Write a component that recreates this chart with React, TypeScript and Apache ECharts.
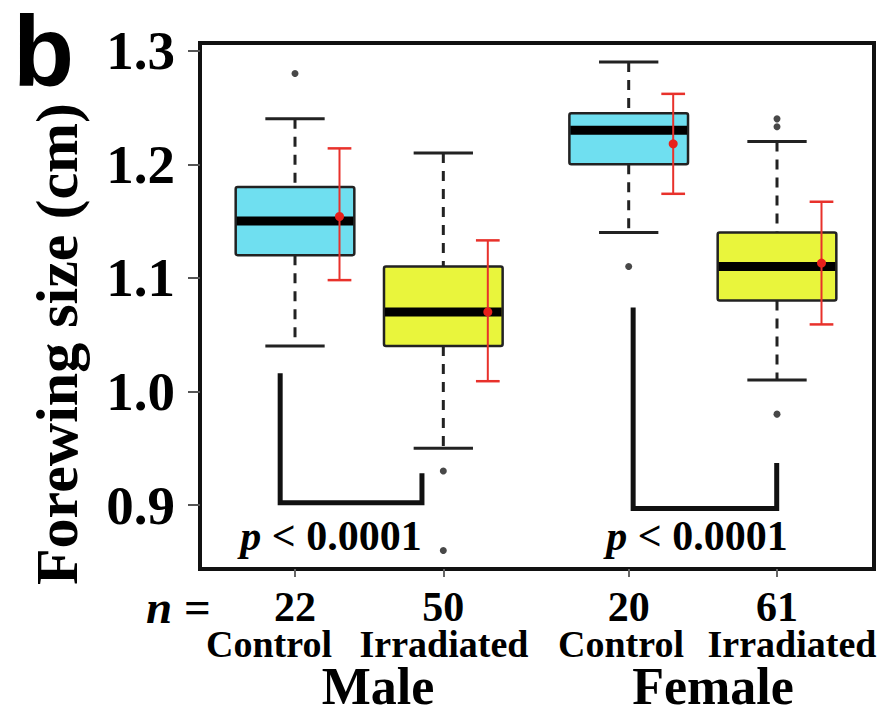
import React, { useEffect, useRef } from "react";
import * as echarts from "echarts";

// ---- data ----
const positions = [1, 2, 3.25, 4.25];
const nCounts = ["22", "50", "20", "61"];
const treatments = ["Control", "Irradiated", "Control", "Irradiated"];
const sexes = ["Male", "Female"];
const yTicks = [0.9, 1.0, 1.1, 1.2, 1.3];

const boxMin = [1.04, 0.95, 1.14, 1.01];
const boxQ1 = [1.12, 1.04, 1.2, 1.08];
const boxMedian = [1.15, 1.07, 1.23, 1.11];
const boxQ3 = [1.18, 1.11, 1.245, 1.14];
const boxMax = [1.24, 1.21, 1.29, 1.22];

const outlierX = [1, 2, 2, 3.25, 4.25, 4.25, 4.25];
const outlierY = [1.28, 0.93, 0.86, 1.11, 1.24, 1.233, 0.98];

const meanValues = [1.154, 1.07, 1.218, 1.113];
const errLow = [1.098, 1.009, 1.174, 1.059];
const errHigh = [1.214, 1.133, 1.262, 1.167];

const bracketLeftX = [0.9, 3.28];
const bracketRightX = [1.856, 4.248];
const bracketLeftTop = [1.016, 1.074];
const bracketBottom = [0.902, 0.897];
const bracketRightTop = [0.928, 0.937];
const pLabels = ["0.0001", "0.0001"];

const SERIF = '"Liberation Serif", "Times New Roman", serif';

export default function App() {
  const ref = useRef<HTMLDivElement>(null);

  useEffect(() => {
    if (!ref.current) return;
    const chart = echarts.init(ref.current, undefined, { renderer: "svg" });

    const boxData = positions.map((x, i) => [x, boxMin[i], boxQ1[i], boxMedian[i], boxQ3[i], boxMax[i], i]);
    const meanData = positions.map((x, i) => [x, meanValues[i], errLow[i], errHigh[i]]);
    const outlierData = outlierX.map((x, i) => [x, outlierY[i]]);
    const bracketData = bracketLeftX.map((x, i) => [x, bracketRightX[i], bracketLeftTop[i], bracketBottom[i], bracketRightTop[i]]);
    const boxFill = (i: number) => (treatments[i] === "Control" ? "#6fdff0" : "#e9f53c");

    // centres (px) of the treatment captions, as placed in the reference
    const treatCx = [269, 444, 621, 792];

    const option: any = {
      animation: false,
      backgroundColor: "#ffffff",
      grid: {
        left: 200,
        top: 43,
        width: 674,
        height: 526,
        show: true,
        borderColor: "#111",
        borderWidth: 4,
        backgroundColor: "transparent",
      },
      xAxis: {
        type: "value",
        min: 0.3594,
        max: 4.904,
        axisLine: { show: false },
        splitLine: { show: false },
        axisTick: {
          show: true,
          customValues: positions,
          length: 8,
          lineStyle: { color: "#666", width: 2 },
        },
        axisLabel: {
          show: true,
          customValues: positions,
          margin: 22,
          color: "#000",
          fontFamily: SERIF,
          fontWeight: "bold",
          fontSize: 42,
          lineHeight: 32,
          formatter: (v: number) => {
            const i = positions.findIndex((p) => Math.abs(p - v) < 1e-6);
            return i < 0 ? "" : nCounts[i];
          },
        },
      },
      yAxis: {
        type: "value",
        min: 0.84365,
        max: 1.30678,
        axisLine: { show: false },
        splitLine: { show: false },
        axisTick: {
          show: true,
          customValues: yTicks,
          length: 12,
          lineStyle: { color: "#555", width: 2 },
        },
        axisLabel: {
          show: true,
          customValues: yTicks,
          margin: 25,
          color: "#000",
          fontFamily: SERIF,
          fontWeight: "bold",
          fontSize: 55,
          formatter: (v: number) => v.toFixed(1),
        },
      },
      series: [
        {
          type: "custom",
          name: "boxes",
          clip: false,
          z: 2,
          data: boxData,
          renderItem: (params: any, api: any) => {
            const x = api.value(0);
            const mn = api.value(1), q1 = api.value(2), md = api.value(3), q3 = api.value(4), mx = api.value(5);
            const idx = api.value(6);
            const pTop = api.coord([x, mx]);
            const pQ3 = api.coord([x, q3]);
            const pQ1 = api.coord([x, q1]);
            const pBot = api.coord([x, mn]);
            const pMed = api.coord([x, md]);
            const left = api.coord([x - 0.4, q3])[0];
            const right = api.coord([x + 0.4, q3])[0];
            const capL = api.coord([x - 0.2, q3])[0];
            const capR = api.coord([x + 0.2, q3])[0];
            const dash = { stroke: "#222", lineWidth: 3, lineDash: [10, 8] };
            const solid = { stroke: "#222", lineWidth: 3 };
            return {
              type: "group",
              children: [
                { type: "line", shape: { x1: pTop[0], y1: pTop[1], x2: pQ3[0], y2: pQ3[1] }, style: dash },
                { type: "line", shape: { x1: pQ1[0], y1: pQ1[1], x2: pBot[0], y2: pBot[1] }, style: dash },
                { type: "line", shape: { x1: capL, y1: pTop[1], x2: capR, y2: pTop[1] }, style: solid },
                { type: "line", shape: { x1: capL, y1: pBot[1], x2: capR, y2: pBot[1] }, style: solid },
                {
                  type: "rect",
                  shape: { x: left, y: pQ3[1], width: right - left, height: pQ1[1] - pQ3[1], r: 2 },
                  style: { fill: boxFill(idx), stroke: "#222", lineWidth: 2.5 },
                },
                { type: "line", shape: { x1: left + 1, y1: pMed[1], x2: right - 1, y2: pMed[1] }, style: { stroke: "#000", lineWidth: 9 } },
              ],
            };
          },
        },
        {
          type: "scatter",
          name: "outliers",
          z: 3,
          symbol: "circle",
          symbolSize: 7,
          itemStyle: { color: "#1a1a1a" },
          data: outlierData,
        },
        {
          type: "custom",
          name: "mean",
          clip: false,
          z: 4,
          data: meanData,
          renderItem: (params: any, api: any) => {
            const x = api.value(0) + 0.3;
            const pM = api.coord([x, api.value(1)]);
            const pL = api.coord([x, api.value(2)]);
            const pH = api.coord([x, api.value(3)]);
            const cl = api.coord([x - 0.08, 0])[0];
            const cr = api.coord([x + 0.08, 0])[0];
            const st = { stroke: "#e8312b", lineWidth: 2 };
            return {
              type: "group",
              children: [
                { type: "line", shape: { x1: pL[0], y1: pL[1], x2: pH[0], y2: pH[1] }, style: st },
                { type: "line", shape: { x1: cl, y1: pH[1], x2: cr, y2: pH[1] }, style: { stroke: "#e8312b", lineWidth: 2.5 } },
                { type: "line", shape: { x1: cl, y1: pL[1], x2: cr, y2: pL[1] }, style: { stroke: "#e8312b", lineWidth: 2.5 } },
                { type: "circle", shape: { cx: pM[0], cy: pM[1], r: 4.5 }, style: { fill: "#e8201b" } },
              ],
            };
          },
        },
        {
          type: "custom",
          name: "brackets",
          clip: false,
          z: 3,
          data: bracketData,
          renderItem: (params: any, api: any) => {
            const lx = api.value(0), rx = api.value(1), lt = api.value(2), b = api.value(3), rt = api.value(4);
            return {
              type: "polyline",
              shape: { points: [api.coord([lx, lt]), api.coord([lx, b]), api.coord([rx, b]), api.coord([rx, rt])] },
              style: { stroke: "#111", lineWidth: 5, fill: null, lineJoin: "miter" },
            };
          },
        },
      ],
      graphic: [
        {
          type: "text",
          x: 13,
          y: 51,
          style: {
            text: "b",
            fill: "#000",
            font: 'bold 100px "Liberation Sans", Arial, sans-serif',
            lineHeight: 80,
            textAlign: "left",
            textVerticalAlign: "middle",
          },
        },
        {
          type: "text",
          x: 57,
          y: 344,
          rotation: Math.PI / 2,
          style: { text: "Forewing size (cm)", fill: "#000", font: `bold 60px ${SERIF}`, textAlign: "center", textVerticalAlign: "middle" },
        },
        {
          type: "text",
          x: 146,
          y: 607,
          style: {
            text: "{i|n} =",
            fill: "#000",
            font: `bold 47px ${SERIF}`,
            textAlign: "left",
            textVerticalAlign: "middle",
            rich: {
              i: { fontStyle: "italic", fontWeight: "bold", fontSize: 47, fontFamily: SERIF, lineHeight: 34 },
            },
          },
        },
        ...treatments.map((t, i) => ({
          type: "text",
          x: treatCx[i],
          y: 644,
          style: {
            text: t,
            fill: "#000",
            font: `bold 38px ${SERIF}`,
            lineHeight: 32,
            textAlign: "center",
            textVerticalAlign: "middle",
          },
        })),
        {
          type: "text",
          x: 331,
          y: 536,
          style: {
            text: `{i|p} < ${pLabels[0]}`,
            fill: "#000",
            font: `bold 42px ${SERIF}`,
            textAlign: "center",
            textVerticalAlign: "middle",
            rich: { i: { fontStyle: "italic", fontWeight: "bold", fontSize: 42, fontFamily: SERIF } },
          },
        },
        {
          type: "text",
          x: 697,
          y: 536,
          style: {
            text: `{i|p} < ${pLabels[1]}`,
            fill: "#000",
            font: `bold 42px ${SERIF}`,
            textAlign: "center",
            textVerticalAlign: "middle",
            rich: { i: { fontStyle: "italic", fontWeight: "bold", fontSize: 42, fontFamily: SERIF } },
          },
        },
        {
          type: "text",
          x: 378,
          y: 686,
          style: { text: sexes[0], fill: "#000", font: `bold 52px ${SERIF}`, textAlign: "center", textVerticalAlign: "middle" },
        },
        {
          type: "text",
          x: 713,
          y: 686,
          style: { text: sexes[1], fill: "#000", font: `bold 52px ${SERIF}`, textAlign: "center", textVerticalAlign: "middle" },
        },
      ],
    };

    chart.setOption(option);
    return () => chart.dispose();
  }, []);

  return (
    <div
      ref={ref}
      style={{ position: "absolute", left: 0, top: 0, width: 879, height: 714, background: "#fff" }}
    />
  );
}
